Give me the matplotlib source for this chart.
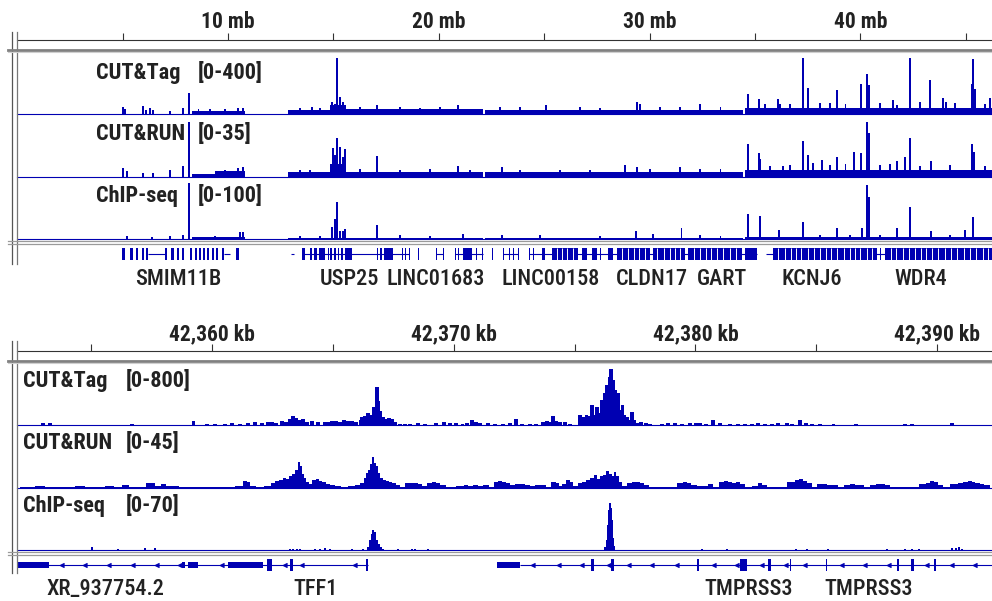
import matplotlib
matplotlib.use("Agg")
import matplotlib.pyplot as plt
import matplotlib.transforms as mtransforms
from matplotlib.lines import Line2D

plt.rcParams["font.family"] = ["Roboto Condensed", "Barlow Semi Condensed", "Roboto", "DejaVu Sans"]

BLUE = "#0000b2"
INK = "#222222"
W, H = 992, 601

# ---------------- chr21 overview (mb) ----------------
chr_xlim = (0.0, 46.24)
chr_ticks = [5, 10, 15, 20, 25, 30, 35, 40, 45]
chr_labelled = [10, 20, 30, 40]

tag_bg_start = [8.29, 12.85, 14.84, 15.61, 22.19, 34.52]
tag_bg_end = [10.81, 14.84, 15.61, 22.10, 34.43, 46.24]
tag_bg_val = [18, 25, 60, 32, 30, 42]
tag_pk_mb = [5.02, 5.11, 5.97, 6.11, 6.30, 6.44, 7.25, 7.87, 8.15, 8.60, 9.15, 9.86, 10.47, 10.71,
             13.41, 13.99, 14.36, 14.93, 15.07, 15.17, 15.31, 15.46,
             16.26, 17.07, 18.16, 19.11, 20.06, 20.91, 22.90, 23.85, 25.09, 26.70, 27.65, 29.41, 29.55,
             30.49, 31.44, 32.39, 33.35,
             34.67, 35.19, 35.48, 36.09, 36.19, 36.66, 37.28, 37.51, 38.08, 38.56, 38.89, 39.28, 40.03,
             40.31, 40.41, 40.93, 41.55, 41.74, 42.35, 42.83, 43.30, 43.92, 44.06, 44.49, 45.30, 45.35,
             45.44, 45.91, 46.15]
tag_pk_val = [50, 35, 55, 28, 42, 28, 21, 42, 147, 35, 35, 35, 42, 42,
              42, 50, 42, 84, 70, 395, 120, 84,
              50, 63, 50, 42, 50, 63, 50, 50, 63, 50, 42, 84, 70,
              50, 50, 70, 50,
              140, 105, 70, 105, 70, 70, 395, 180, 77, 77, 170, 70, 210,
              280, 205, 77, 100, 63, 395, 84, 240, 112, 84, 77, 210, 385,
              175, 70, 112]

run_bg_start = [8.29, 9.38, 12.85, 14.84, 15.61, 22.19, 34.52]
run_bg_end = [9.38, 10.81, 14.84, 15.61, 22.10, 34.43, 46.24]
run_bg_val = [2.0, 3.5, 3.0, 8.0, 3.2, 3.0, 4.3]
run_pk_mb = [5.02, 5.21, 5.97, 6.44, 7.25, 7.87, 8.15, 9.86, 10.47, 10.71,
             13.41, 13.89, 14.98, 15.07, 15.17, 15.31, 15.46, 15.55, 16.26, 17.07, 18.16, 19.58,
             20.91, 21.49, 23.00, 23.85, 25.75, 27.17, 28.83, 29.41, 30.02, 31.44, 32.39, 33.35,
             34.67, 35.19, 35.24, 35.71, 36.33, 36.66, 37.28, 37.51, 37.75, 38.18, 38.56, 38.89,
             39.28, 39.70, 40.03, 40.31, 40.41, 40.93, 41.41, 41.74, 42.12, 42.35, 42.83, 43.35,
             44.25, 45.30, 45.39, 45.91]
run_pk_val = [5.5, 3.7, 2.5, 2.5, 4.3, 6.8, 34, 4.5, 5.5, 6.0,
              4.3, 4.3, 17.8, 13.5, 24, 18.4, 12.3, 17.2, 4.9, 12.9, 4.3, 4.9,
              6.8, 4.3, 6.1, 4.3, 4.3, 4.3, 7.4, 6.1, 4.9, 6.1, 4.9, 4.9,
              20.3, 14.7, 11.1, 6.8, 6.8, 7.4, 22.1, 13.5, 8.6, 10.4, 7.4, 12.3,
              8.0, 15.4, 14.7, 34, 27, 7.4, 8.0, 9.8, 12.3, 24, 6.8, 9.8,
              7.4, 20.3, 15.4, 6.8]

chip_bg_start = [8.29, 12.85, 22.19, 34.52]
chip_bg_end = [10.81, 22.10, 34.43, 46.24]
chip_bg_val = [3.0, 2.6, 2.6, 3.5]
chip_pk_mb = [5.21, 6.39, 7.25, 7.87, 8.15, 9.38, 10.57, 10.71,
              13.41, 14.36, 14.93, 15.07, 15.17, 15.31, 15.46, 15.55, 17.07, 18.16, 19.58, 21.15,
              23.00, 24.80, 27.65, 29.35, 30.16, 31.50, 32.39, 33.35,
              34.67, 35.24, 36.14, 37.28, 38.08, 38.89, 39.51, 40.08, 40.31, 40.41, 40.93, 41.74,
              42.35, 43.35, 44.25, 44.96, 45.35]
chip_pk_val = [5.2, 3.5, 5.2, 7.0, 98, 5.2, 12.2, 12.2,
               5.2, 5.2, 21, 35, 65, 14, 14, 17.5, 24.5, 7.0, 5.2, 8.8,
               7.0, 7.0, 5.2, 14, 8.8, 19.3, 7.0, 5.2,
               44, 40, 15.8, 30, 7.0, 19.3, 7.0, 19.3, 95, 73.5, 7.0, 19.3,
               56, 14, 7.0, 15.8, 38.5]

chr_gene_lines = [(6.20, 7.01), (9.81, 10.09), (12.99, 13.13), (13.51, 18.59), (19.87, 20.20),
                  (20.77, 22.10), (23.05, 23.76), (24.28, 35.09), (35.52, 46.24)]
chr_exons = [(4.97, 5.11), (5.35, 5.49), (5.64, 5.73), (5.92, 6.02), (6.11, 6.20), (7.01, 7.11),
             (7.30, 7.44), (7.58, 7.68), (7.82, 7.91), (8.20, 8.29), (8.43, 8.53), (8.62, 8.72),
             (8.81, 8.91), (9.00, 9.10), (9.24, 9.34), (9.43, 9.53), (9.72, 9.81), (10.38, 10.52),
             (13.51, 13.65), (13.89, 14.00), (14.10, 14.20), (14.30, 14.60), (14.74, 14.80),
             (14.84, 14.93), (15.03, 15.12), (15.22, 15.27), (15.36, 15.46), (15.55, 15.88),
             (17.07, 17.12), (17.21, 17.31), (17.40, 17.83), (18.25, 18.30), (18.39, 18.44),
             (18.59, 18.63), (19.01, 19.05), (19.87, 19.91), (20.20, 20.24), (20.77, 20.82),
             (20.91, 20.95), (21.15, 21.57), (21.77, 21.81), (22.05, 22.10), (22.52, 22.56),
             (23.05, 23.09), (23.33, 23.37), (23.52, 23.56), (23.76, 23.80), (24.28, 24.32),
             (24.47, 24.51), (24.90, 25.04), (25.37, 26.60), (26.79, 27.03), (27.27, 27.51),
             (27.65, 27.69), (28.03, 28.26), (28.45, 30.02), (30.16, 31.68), (31.82, 34.38),
             (34.52, 35.09), (35.85, 40.79), (40.93, 40.97), (41.17, 46.24)]
chr_exon_gaps = [25.6, 25.85, 26.1, 26.35, 28.7, 28.95, 29.25, 29.5, 29.8, 30.35, 30.7, 30.95,
                 31.2, 31.45, 32.1, 32.4, 32.65, 32.9, 33.2, 33.5, 33.8, 34.1, 36.1, 36.4, 36.7,
                 36.95, 37.2, 37.5, 37.8, 38.1, 38.35, 38.6, 38.9, 39.2, 39.5, 39.75, 40.0, 40.3,
                 40.55, 41.45, 41.7, 42.0, 42.3, 42.6, 42.85, 43.1, 43.4, 43.7, 44.0, 44.3, 44.6,
                 44.9, 45.2, 45.5, 45.8, 46.05]
chr_gene_names = ["SMIM11B", "USP25", "LINC01683", "LINC00158", "CLDN17", "GART", "KCNJ6", "WDR4"]
chr_gene_pos = [7.63, 15.74, 19.87, 25.32, 30.11, 33.44, 37.70, 42.87]

# ---------------- TFF1 / TMPRSS3 locus (kb) ----------------
loc_xlim = (42351.93, 42392.27)
loc_ticks = [42355, 42360, 42365, 42370, 42375, 42380, 42385, 42390]
loc_labelled = [42360, 42370, 42380, 42390]

tag2_kb = [42353.01, 42353.30, 42356.69, 42359.22, 42359.79, 42360.13, 42360.54, 42360.83, 42361.16,
           42361.49, 42361.78, 42362.07, 42362.32, 42362.48, 42362.65, 42362.90, 42363.06, 42363.23,
           42363.35, 42363.48, 42363.64, 42363.77, 42363.93, 42364.14, 42364.39, 42364.64, 42364.80,
           42364.97, 42365.13, 42365.30, 42365.46, 42365.63, 42365.79, 42365.96, 42366.13, 42366.21,
           42366.33, 42366.46, 42366.58, 42366.70, 42366.83, 42366.87, 42366.95, 42367.08, 42367.20,
           42367.32, 42367.45, 42367.57,
           42367.78, 42367.99, 42368.19, 42368.52, 42368.81, 42369.27, 42369.60, 42369.85, 42370.10,
           42370.35, 42370.55, 42370.76, 42370.92, 42371.09, 42371.42, 42371.71, 42372.04, 42372.33,
           42372.58, 42372.83, 42373.16, 42373.41, 42373.70, 42373.86, 42374.03, 42374.11, 42374.23,
           42374.40, 42374.61, 42374.81,
           42375.23, 42375.35, 42375.48, 42375.60, 42375.72, 42375.81, 42375.93, 42376.01, 42376.14,
           42376.22, 42376.26, 42376.34, 42376.39, 42376.47, 42376.51, 42376.59, 42376.68, 42376.76,
           42376.80, 42376.88, 42376.97, 42377.05, 42377.17, 42377.25, 42377.38, 42377.46, 42377.59,
           42377.75, 42377.96, 42378.12,
           42378.62, 42378.87, 42379.16, 42379.45, 42379.78, 42380.03, 42380.19, 42380.44, 42380.73,
           42381.02, 42381.43, 42381.76, 42382.05, 42382.34, 42382.59, 42382.88, 42383.17, 42383.42,
           42383.79, 42384.00, 42384.33, 42384.58, 42384.83, 42385.16, 42385.70, 42386.65, 42388.67,
           42388.96, 42390.62]
tag2_val = [28, 28, 14, 56, 14, 14, 14, 28, 14, 28, 42, 28, 42, 42, 28, 56, 42, 84, 126, 98, 70, 84,
            42, 56, 42, 42, 42,
            56, 56, 42, 70, 56, 56, 42, 70, 112, 126, 168, 140, 252, 532, 336, 196, 112, 84, 98, 84, 42,
            14, 14, 14, 28, 14, 28, 42, 28, 28, 14, 28, 70, 42, 28, 28, 14, 14, 28, 84, 14, 14, 14,
            42, 56, 42, 126, 56, 42, 42, 14,
            140, 112, 140, 126, 280, 140, 252, 168, 350, 252, 448, 560, 490, 672, 784, 630, 490, 280,
            448, 210, 280, 140, 112, 70, 182, 70, 28, 42, 28, 14,
            14, 28, 28, 14, 28, 28, 28, 14, 70, 28, 14, 14, 14, 14, 28, 14, 14, 28, 28, 14, 70, 28,
            14, 14, 14, 14, 14, 14, 28]

run2_kb = [42352.06, 42352.47, 42352.89, 42353.30, 42353.71, 42354.13, 42354.54, 42354.95, 42355.37,
           42355.78, 42356.11, 42356.40, 42356.69, 42357.02, 42357.52, 42357.77, 42357.97, 42358.18,
           42358.47, 42358.76, 42359.09, 42359.51, 42359.92, 42360.33, 42360.75, 42361.16, 42361.37,
           42361.49, 42361.66, 42361.99,
           42362.32, 42362.53, 42362.69, 42362.86, 42362.98, 42363.10, 42363.23, 42363.35, 42363.48,
           42363.60, 42363.68, 42363.77, 42363.85, 42363.93, 42364.06, 42364.22, 42364.35, 42364.47,
           42364.64, 42364.80, 42364.97, 42365.21, 42365.50, 42365.79, 42366.04,
           42366.21, 42366.33, 42366.41, 42366.50, 42366.58, 42366.66, 42366.75, 42366.83, 42366.91,
           42366.99, 42367.12, 42367.24, 42367.37, 42367.53, 42367.66, 42367.86, 42368.11, 42368.28,
           42368.44, 42368.61, 42368.77, 42369.02, 42369.19, 42369.35, 42369.52, 42369.85,
           42370.35, 42370.51, 42370.68, 42370.88, 42371.09, 42371.34, 42371.59, 42371.75, 42371.92,
           42372.08, 42372.25, 42372.41, 42372.66, 42372.83, 42373.03, 42373.24, 42373.49, 42373.74,
           42373.90, 42374.15, 42374.28, 42374.40, 42374.57, 42374.73, 42374.85, 42375.02,
           42375.23, 42375.39, 42375.56, 42375.72, 42375.85, 42375.97, 42376.10, 42376.22, 42376.34,
           42376.47, 42376.59, 42376.68, 42376.76, 42376.88, 42377.05, 42377.30, 42377.46, 42377.63,
           42377.79, 42377.96, 42378.21, 42378.54, 42378.74, 42379.03,
           42379.41, 42379.57, 42379.74, 42379.90, 42380.19, 42380.40, 42380.61, 42380.85, 42381.10,
           42381.27, 42381.43, 42381.60, 42381.76, 42381.93, 42382.18, 42382.47, 42382.67, 42382.84,
           42383.09, 42383.50,
           42384.04, 42384.21, 42384.37, 42384.54, 42384.70, 42384.91, 42385.12, 42385.32, 42385.57,
           42385.82, 42385.98, 42386.32, 42386.48, 42386.69, 42386.89, 42387.06, 42387.35, 42387.56,
           42387.72, 42387.93, 42388.14, 42388.47, 42389.09, 42389.42, 42389.63, 42389.79, 42389.96,
           42390.12, 42390.33, 42390.74, 42390.95, 42391.16, 42391.36, 42391.49, 42391.65, 42391.86,
           42392.03, 42392.19]
run2_val = [0.8, 0.8, 1.6, 0.8, 0.8, 0.8, 1.6, 0.8, 0.8, 1.6, 0.8, 2.4, 0.8, 0.8, 4.0, 1.6, 3.2, 1.6,
            1.6, 0.8, 0.8, 0.8, 0.8, 0.8, 0.8, 1.6, 5.5, 4.7, 1.6, 0.8,
            1.6, 4.0, 5.5, 6.3, 7.9, 7.1, 9.5, 11.1, 14.2, 20.5, 17.4, 11.1, 7.9, 4.7, 3.2, 6.3, 7.1,
            5.5, 4.7, 3.2, 2.4, 1.6, 0.8, 1.6, 2.4,
            4.0, 7.9, 11.8, 14.2, 19.0, 24.5, 19.8, 17.4, 11.8, 7.9, 6.3, 5.5, 4.7, 4.0, 2.4, 0.8, 4.0,
            4.0, 4.0, 3.2, 1.6, 4.0, 4.7, 4.0, 2.4, 0.8,
            1.6, 2.4, 1.6, 2.4, 1.6, 2.4, 0.8, 4.7, 5.5, 4.7, 4.0, 2.4, 3.2, 3.2, 2.4, 1.6, 2.4, 2.4,
            0.8, 4.7, 4.0, 1.6, 3.2, 6.3, 4.7, 1.6,
            4.0, 4.7, 6.3, 7.9, 10.3, 7.1, 9.5, 10.3, 13.4, 11.1, 9.5, 12.6, 9.5, 4.7, 1.6, 4.0, 4.7,
            4.7, 4.0, 2.4, 0.8, 0.8, 0.8, 0.8,
            4.0, 4.7, 4.0, 2.4, 1.6, 1.6, 3.2, 0.8, 4.7, 5.5, 4.7, 4.0, 4.7, 3.2, 0.8, 1.6, 4.0, 2.4,
            0.8, 0.8,
            4.7, 6.3, 7.1, 5.5, 4.0, 0.8, 3.2, 3.2, 2.4, 2.4, 0.8, 2.4, 3.2, 2.4, 2.4, 0.8, 2.4, 3.2,
            3.2, 2.4, 0.8, 0.8, 0.8, 3.2, 4.0, 5.5, 4.7, 2.4, 0.8, 3.2, 4.0, 4.7, 5.5, 4.7, 4.0, 3.2,
            2.4, 2.4]

chip2_kb = [42355.04, 42356.11, 42357.23, 42357.64, 42363.23, 42363.35, 42363.52, 42363.64, 42364.26,
            42364.47, 42364.68, 42364.88, 42365.79, 42366.25, 42366.46, 42366.54, 42366.62, 42366.66,
            42366.75, 42366.83, 42366.91, 42366.99, 42367.08, 42367.70, 42368.28, 42368.40, 42368.94,
            42376.26, 42376.34, 42376.39, 42376.43, 42376.47, 42376.51, 42376.55, 42376.59, 42376.63,
            42380.28, 42381.31, 42384.16, 42384.62, 42385.49, 42387.93, 42388.67, 42388.96, 42389.25,
            42390.62, 42390.78, 42390.91, 42391.03]
chip2_val = [3.7, 1.2, 2.5, 2.5, 1.2, 1.2, 1.2, 1.2, 1.2, 1.2, 2.5, 1.2, 1.2, 1.2, 3.7, 12.3, 19.7,
             24.6, 22.1, 12.3, 7.4, 3.7, 1.2, 1.2, 1.2, 1.2, 1.2,
             3.7, 12.3, 30.8, 49.2, 57.8, 51.7, 36.9, 14.8, 4.9,
             1.2, 1.2, 1.2, 1.2, 1.2, 1.2, 1.2, 1.2, 1.2, 2.5, 2.5, 3.7, 1.2]

loc_gene_lines = [(42351.93, 42366.46), (42372.74, 42392.27)]
loc_utr = [(42351.93, 42353.26), (42358.76, 42358.88), (42359.01, 42359.42), (42360.66, 42362.11),
           (42371.79, 42372.74)]
loc_cds = [(42362.28, 42362.48), (42363.23, 42363.35), (42366.37, 42366.46), (42375.68, 42375.81),
           (42376.51, 42376.63), (42380.07, 42380.15), (42381.85, 42382.14), (42383.01, 42383.13),
           (42383.90, 42383.94), (42385.41, 42385.45), (42388.34, 42388.43), (42388.92, 42389.05),
           (42389.87, 42389.96)]
loc_arrows = [42353.71, 42354.66, 42355.66, 42356.65, 42357.64, 42358.60, 42360.33, 42362.94,
              42363.64, 42365.84, 42373.20, 42374.28, 42375.23, 42376.34, 42377.17, 42378.12,
              42379.16, 42380.69, 42381.64, 42382.67, 42383.67, 42384.45, 42385.98, 42386.94,
              42387.93, 42389.50, 42390.54, 42391.49]
loc_gene_names = ["XR_937754.2", "TFF1", "TMPRSS3", "TMPRSS3"]
loc_gene_pos = [42355.57, 42364.26, 42382.18, 42387.18]

track_names = ["CUT&Tag", "CUT&RUN", "ChIP-seq"]
chr_ranges = [400, 35, 100]
loc_ranges = [800, 45, 70]

# ---------------- drawing ----------------
fig = plt.figure(figsize=(W / 100, H / 100), dpi=100)


def add_ax(x0, y0, x1, y1):
    return fig.add_axes([x0 / W, 1 - y1 / H, (x1 - x0) / W, (y1 - y0) / H])


def fig_line(xs, ys, color, lw):
    fig.add_artist(Line2D([x / W for x in xs], [1 - y / H for y in ys], color=color, lw=lw))


def ruler(ax, xlim, ticks, labelled, fmt, label_y):
    ax.set_xlim(xlim)
    ax.set_ylim(0, 1)
    ax.set_xticks(ticks)
    ax.set_yticks([])
    ax.tick_params(axis="x", direction="in", length=5.2, width=0.8, color="#333333",
                   labelbottom=False)
    for s in ["top", "left", "right"]:
        ax.spines[s].set_visible(False)
    ax.spines["bottom"].set_color("#333333")
    ax.spines["bottom"].set_linewidth(0.8)
    ax.patch.set_alpha(0)
    tr = mtransforms.blended_transform_factory(ax.transData, fig.transFigure)
    for t in labelled:
        ax.text(t, 1 - label_y / H, fmt(t), transform=tr, ha="center", va="baseline",
                fontsize=15.5, fontweight="bold", color=INK)


def signal(ax, xlim, ymax, x, y, width, bg=None, smooth=False):
    if bg is not None:
        s, e, v = bg
        ax.bar(s, v, width=[b - a for a, b in zip(s, e)], align="edge", color=BLUE, linewidth=0)
    if smooth:
        ax.fill_between(x, 0, y, step="mid", color=BLUE, linewidth=0)
    else:
        ax.bar(x, y, width=width, color=BLUE, linewidth=0)
    ax.set_xlim(xlim)
    ax.set_ylim(0, ymax)
    ax.axhline(0, color=BLUE, lw=0.8, clip_on=False)
    ax.axis("off")


def gene_labels(ax, names, pos, base_y):
    tr = mtransforms.blended_transform_factory(ax.transData, fig.transFigure)
    for n, p in zip(names, pos):
        ax.text(p, 1 - base_y / H, n, transform=tr, ha="center", va="baseline",
                fontsize=16, fontweight="medium", color=INK)


def track_label(x_name, x_range, base_y, name, rng):
    fig.text(x_name / W, 1 - base_y / H, name, fontsize=16, fontweight="bold",
             color=INK, va="baseline")
    fig.text(x_range / W, 1 - base_y / H, f"[0-{rng}]", fontsize=16, fontweight="bold",
             color=INK, va="baseline")


# ---- top panel: whole chromosome ----
X0 = 17.2
ax = add_ax(X0, 8, W, 40)
ruler(ax, chr_xlim, chr_ticks, chr_labelled, lambda t: f"{t} mb", 28.3)

chr_tracks = [
    ((57, 114), (tag_bg_start, tag_bg_end, tag_bg_val), tag_pk_mb, tag_pk_val),
    ((120, 177), (run_bg_start, run_bg_end, run_bg_val), run_pk_mb, run_pk_val),
    ((182, 239), (chip_bg_start, chip_bg_end, chip_bg_val), chip_pk_mb, chip_pk_val),
]
label_base = [79, 139.5, 202.5]
for i, ((y0, y1), bg, px, py) in enumerate(chr_tracks):
    a = add_ax(X0, y0, W, y1)
    signal(a, chr_xlim, chr_ranges[i], px, py, 0.07, bg)
    track_label(96, 198, label_base[i], track_names[i], chr_ranges[i])

g = add_ax(X0, 246, W, 262)
g.hlines([0] * len(chr_gene_lines), [s for s, e in chr_gene_lines], [e for s, e in chr_gene_lines],
         color=BLUE, lw=0.8)
g.bar([s for s, e in chr_exons], 1.4, width=[e - s for s, e in chr_exons], bottom=-0.7,
      align="edge", color=BLUE, linewidth=0)
g.vlines(chr_exon_gaps, -0.75, 0.75, color="white", lw=0.7)
g.set_xlim(chr_xlim)
g.set_ylim(-1, 1)
g.axis("off")
gene_labels(g, chr_gene_names, chr_gene_pos, 285)

fig_line([11.7, 11.7], [32, 264], "#555555", 0.9)
fig_line([16.6, 16.6], [32, 264], "#777777", 0.9)
fig_line([8, W], [49.8, 49.8], "#808080", 2.0)
fig_line([8, W], [51.9, 51.9], "#cfcfcf", 0.8)
fig_line([8, W], [241.0, 241.0], "#9a9a9a", 0.9)
fig_line([8, W], [243.6, 243.6], "#9a9a9a", 0.9)

# ---- bottom panel: TFF1 locus ----
X0b = 17.0
ax = add_ax(X0b, 320, W, 351)
ruler(ax, loc_xlim, loc_ticks, loc_labelled, lambda t: f"{t:,} kb", 340.3)

loc_tracks = [
    ((368, 425), tag2_kb, tag2_val, 0.14, False),
    ((431, 488), run2_kb, run2_val, 0.22, True),
    ((493, 550), chip2_kb, chip2_val, 0.07, False),
]
label_base = [386.7, 449, 511.7]
for i, ((y0, y1), px, py, wd, sm) in enumerate(loc_tracks):
    a = add_ax(X0b, y0, W, y1)
    signal(a, loc_xlim, loc_ranges[i], px, py, wd, smooth=sm)
    track_label(23, 126, label_base[i], track_names[i], loc_ranges[i])

g = add_ax(X0b, 557, W, 573)
g.hlines([0] * len(loc_gene_lines), [s for s, e in loc_gene_lines], [e for s, e in loc_gene_lines],
         color=BLUE, lw=0.8)
g.bar([s for s, e in loc_utr], 0.84, width=[e - s for s, e in loc_utr], bottom=-0.42,
      align="edge", color=BLUE, linewidth=0)
g.bar([s for s, e in loc_cds], 1.5, width=[e - s for s, e in loc_cds], bottom=-0.75,
      align="edge", color=BLUE, linewidth=0)
g.plot(loc_arrows, [0] * len(loc_arrows), linestyle="none", marker=4, markersize=3.5,
       color=BLUE)
g.set_xlim(loc_xlim)
g.set_ylim(-1, 1)
g.axis("off")
gene_labels(g, loc_gene_names, loc_gene_pos, 595)

fig_line([11.7, 11.7], [341, 573], "#555555", 0.9)
fig_line([16.6, 16.6], [341, 573], "#777777", 0.9)
fig_line([8, W], [360.8, 360.8], "#808080", 2.0)
fig_line([8, W], [362.9, 362.9], "#cfcfcf", 0.8)
fig_line([8, W], [552.0, 552.0], "#9a9a9a", 0.9)
fig_line([8, W], [554.6, 554.6], "#9a9a9a", 0.9)

fig.savefig("out.png", dpi=100)
